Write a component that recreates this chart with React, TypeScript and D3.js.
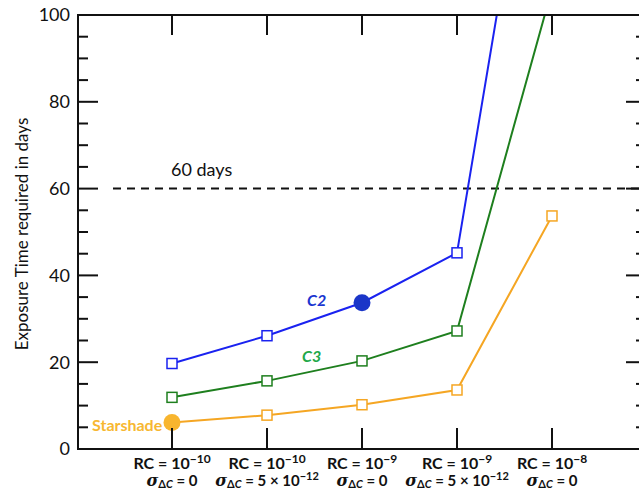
import React from 'react';
import { scaleLinear, line } from 'd3';

const rcExp = ['−10', '−10', '−9', '−9', '−8'];
const sigmaBase = ['0', '5 × 10', '0', '5 × 10', '0'];
const sigmaExp = ['', '−12', '', '−12', ''];

const c2 = [19.7, 26.1, 33.7, 45.2, 176];
const c3 = [11.9, 15.7, 20.3, 27.2, 106];
const starshade = [6.1, 7.8, 10.2, 13.6, 53.7];

const yTicks = [0, 20, 40, 60, 80, 100];
const limitDays = 60;

const W = 639;
const H = 491;
const left = 78;
const right = 646;
const top = 15;
const bottom = 449;

const font = 'Lato, "Open Sans", sans-serif';

export default function App() {
  const x = scaleLinear().domain([0, 4]).range([172, 552]);
  const y = scaleLinear().domain([0, 100]).range([bottom, top]);

  const path = line<number>()
    .x((d, i) => x(i))
    .y(d => y(d));

  const minor = y.ticks(20).filter(t => t % 20 !== 0);

  const series = [
    { name: 'C2', data: c2, color: '#1a22f0', dot: 2, dotColor: '#1b36c8' },
    { name: 'C3', data: c3, color: '#1e7f1e', dot: -1, dotColor: '' },
    { name: 'Starshade', data: starshade, color: '#f5a623', dot: 0, dotColor: '#f8b52e' },
  ];

  return (
    <svg width={W} height={H} style={{ position: 'absolute', left: 0, top: 0, background: '#fff' }}>
      <defs>
        <clipPath id="plot">
          <rect x={left} y={top} width={right - left} height={bottom - top} />
        </clipPath>
      </defs>

      {/* 60 day limit */}
      <line x1={left + 35} x2={right} y1={y(limitDays)} y2={y(limitDays)}
        stroke="#111" strokeWidth={2} strokeDasharray="8,6" />
      <text x={171} y={176} fontFamily={font} fontSize={18} fill="#111">60 days</text>

      {/* series */}
      <g clipPath="url(#plot)">
        {series.map(s => (
          <g key={s.name}>
            <path d={path(s.data) || ''} fill="none" stroke={s.color} strokeWidth={2} />
            {s.data.map((v, i) =>
              i === s.dot ? (
                <circle key={i} cx={x(i)} cy={y(v)} r={8.5} fill={s.dotColor} />
              ) : (
                <rect key={i} x={x(i) - 5} y={y(v) - 5} width={10} height={10}
                  fill="#fff" stroke={s.color} strokeWidth={1.5} />
              )
            )}
          </g>
        ))}
      </g>

      {/* series labels */}
      <text x={307} y={306} fontFamily={font} fontSize={16} fontWeight="bold" fontStyle="italic" fill="#1b36d0">C2</text>
      <text x={302} y={362} fontFamily={font} fontSize={16} fontWeight="bold" fontStyle="italic" fill="#22a84a">C3</text>
      <text x={92} y={431} fontFamily={font} fontSize={16} fontWeight="bold" fill="#f7b731">Starshade</text>

      {/* frame */}
      <g stroke="#111" strokeWidth={2} fill="none">
        <line x1={left} x2={left} y1={top - 1} y2={bottom + 1} />
        <line x1={left} x2={right} y1={top} y2={top} />
        <line x1={left} x2={right} y1={bottom} y2={bottom} />
        <line x1={right} x2={right} y1={top} y2={bottom} />
        {yTicks.map(t => (
          <g key={'M' + t}>
            <line x1={left} x2={left + 20} y1={y(t)} y2={y(t)} />
            <line x1={right} x2={right - 20} y1={y(t)} y2={y(t)} />
          </g>
        ))}
        {minor.map(t => (
          <g key={'m' + t}>
            <line x1={left} x2={left + 10} y1={y(t)} y2={y(t)} />
            <line x1={right} x2={right - 10} y1={y(t)} y2={y(t)} />
          </g>
        ))}
        {rcExp.map((_, i) => (
          <g key={'x' + i}>
            <line x1={x(i)} x2={x(i)} y1={top} y2={top + 20} />
            <line x1={x(i)} x2={x(i)} y1={bottom} y2={bottom - 21} />
          </g>
        ))}
      </g>

      {/* y tick labels */}
      {yTicks.map(t => (
        <text key={'l' + t} x={70} y={y(t)} dy="0.35em" textAnchor="end"
          fontFamily={font} fontSize={18} fill="#111">{t}</text>
      ))}

      <text transform={`translate(28,${(top + bottom) / 2 + 2}) rotate(-90)`} textAnchor="middle"
        fontFamily={font} fontSize={17} fill="#111">Exposure Time required in days</text>

      {/* x labels */}
      {rcExp.map((e, i) => (
        <g key={'xl' + i} fontFamily={font} fontWeight="bold" fill="#111" textAnchor="middle">
          <text x={x(i)} y={469} fontSize={16}>
            RC = 10<tspan fontSize={12} dy={-6}>{e}</tspan>
          </text>
          <text x={x(i)} y={486} fontSize={15}>
            <tspan fontFamily='"DejaVu Serif", serif' fontStyle="italic" fontSize={16}>σ</tspan>
            <tspan fontSize={11} dy={2}>Δ</tspan>
            <tspan fontSize={11} fontStyle="italic">C</tspan>
            <tspan dy={-2}> = {sigmaBase[i]}</tspan>
            {sigmaExp[i] && <tspan fontSize={11} dy={-6}>{sigmaExp[i]}</tspan>}
          </text>
        </g>
      ))}
    </svg>
  );
}
